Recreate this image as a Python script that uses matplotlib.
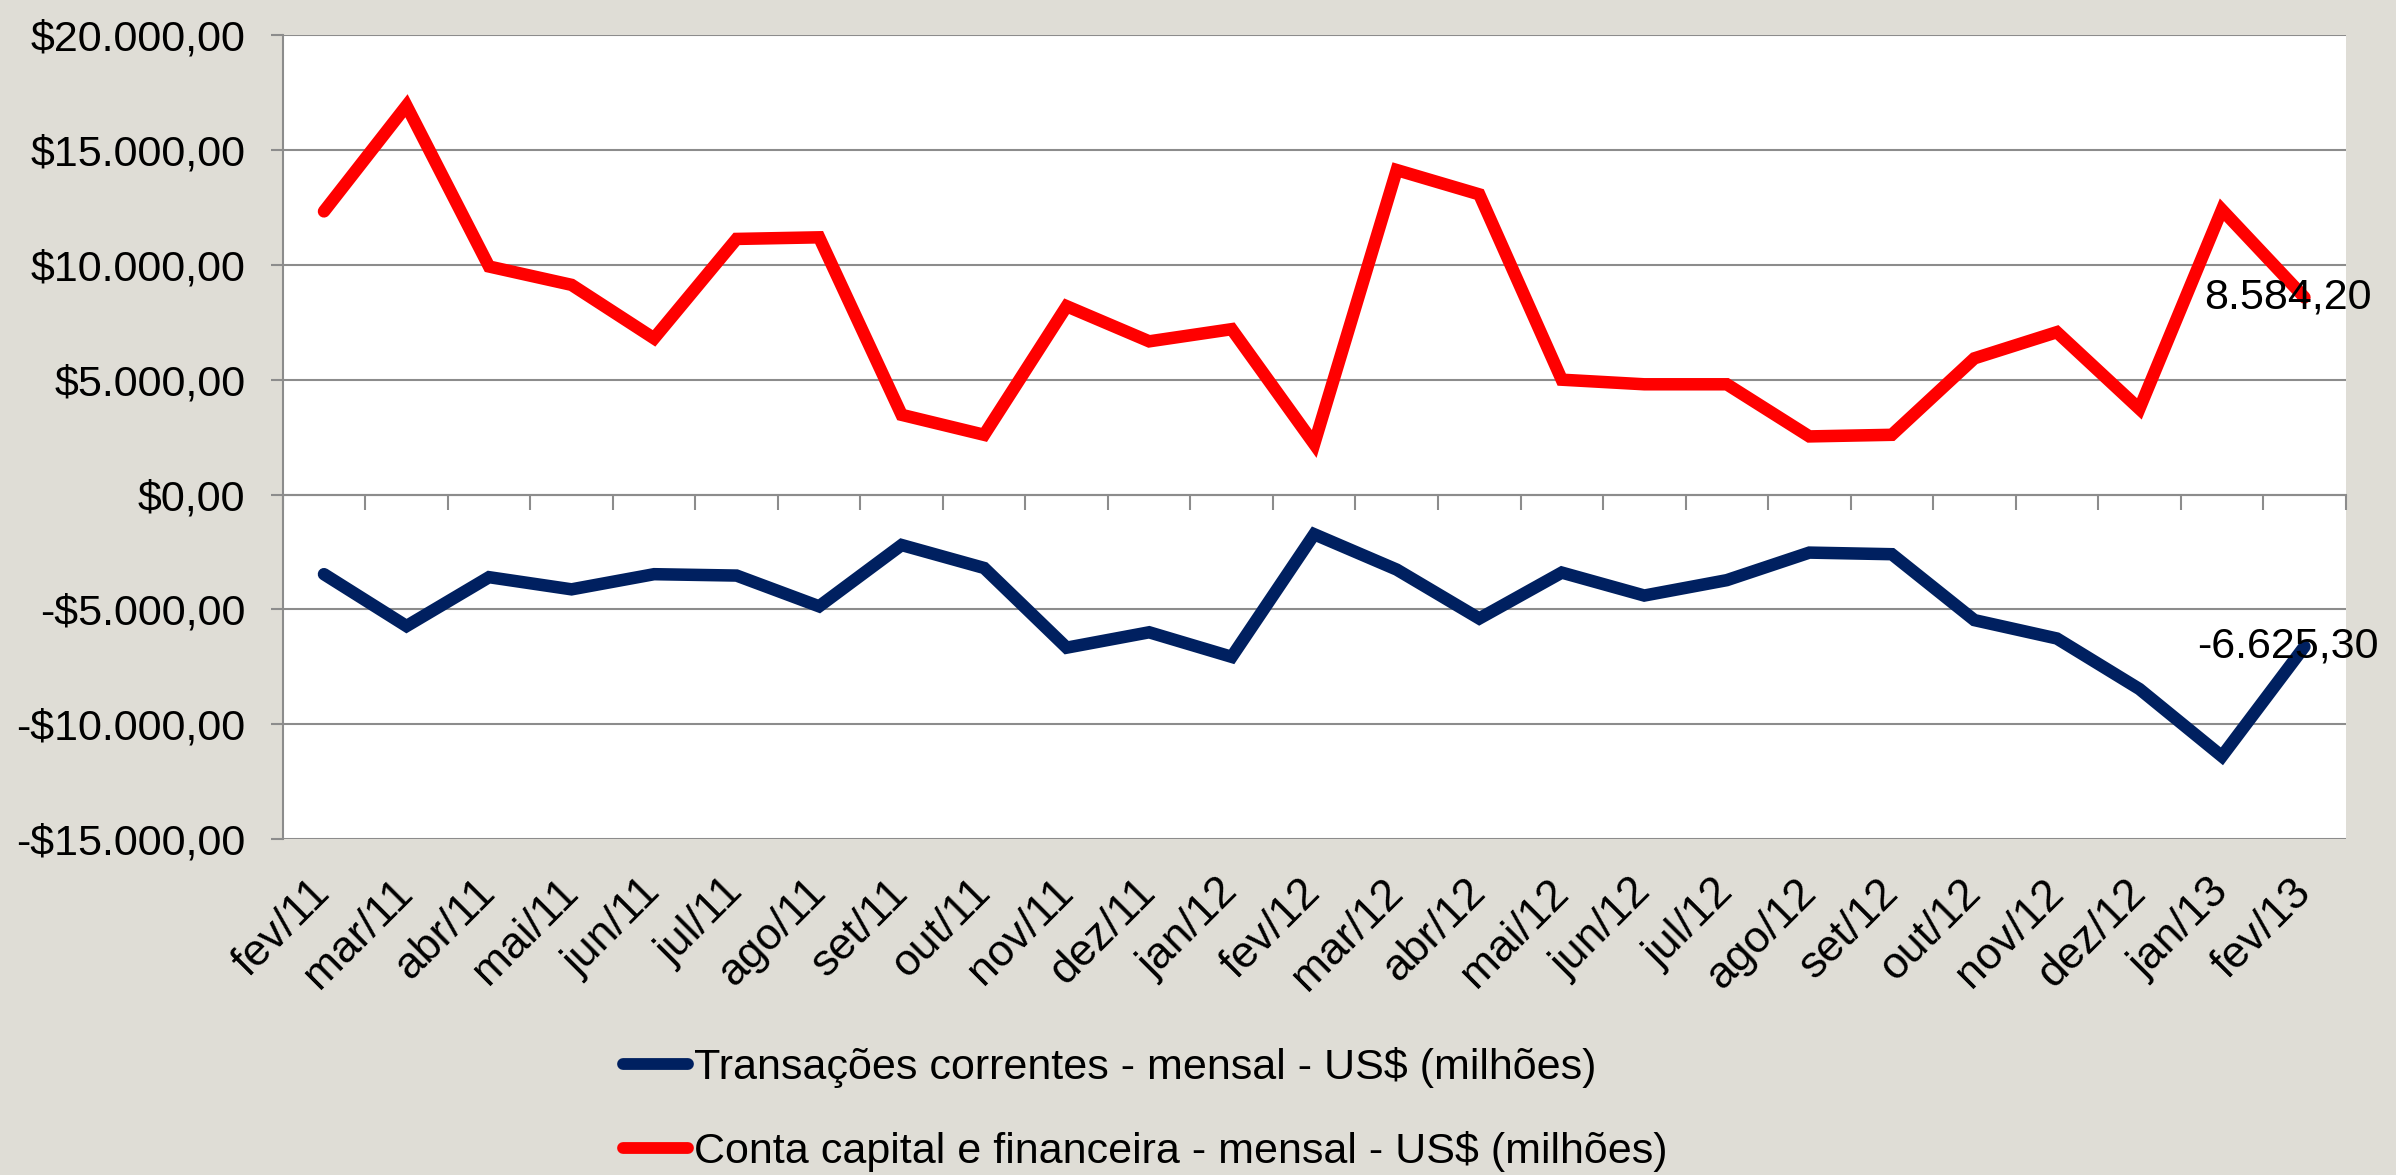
# -*- coding: utf-8 -*-
# Transações correntes x Conta capital e financeira (mensal, US$ milhões)

import matplotlib.pyplot as plt
import numpy as np
from matplotlib.ticker import FuncFormatter

# =============================================================================
# Data
# =============================================================================

months = ['fev/11', 'mar/11', 'abr/11', 'mai/11', 'jun/11', 'jul/11', 'ago/11',
          'set/11', 'out/11', 'nov/11', 'dez/11', 'jan/12', 'fev/12', 'mar/12',
          'abr/12', 'mai/12', 'jun/12', 'jul/12', 'ago/12', 'set/12', 'out/12',
          'nov/12', 'dez/12', 'jan/13', 'fev/13']

transacoes = [-3470, -5730, -3600, -4130, -3470, -3530, -4870, -2200, -3200,
              -6670, -6000, -7070, -1730, -3270, -5400, -3400, -4400, -3730,
              -2530, -2600, -5470, -6270, -8470, -11400, -6625.30]

conta_capital = [12330, 16930, 9930, 9130, 6800, 11130, 11200, 3470, 2600,
                 8200, 6670, 7200, 2200, 14130, 13070, 5000, 4800, 4800,
                 2530, 2600, 5930, 7070, 3730, 12400, 8584.20]

label_tc = 'Transações correntes - mensal - US$ (milhões)'
label_cc = 'Conta capital e financeira - mensal - US$ (milhões)'

y_ticks = [-15000, -10000, -5000, 0, 5000, 10000, 15000, 20000]

# =============================================================================
# Helpers
# =============================================================================

def br_number(value: float) -> str:
    """Format a number the Brazilian way: 1.234,56"""
    txt = f"{abs(value):,.2f}".replace(',', 'X').replace('.', ',').replace('X', '.')
    return ('-' if value < 0 else '') + txt


def br_money(value, _pos=None) -> str:
    return ('-' if value < 0 else '') + '$' + br_number(abs(value))

# =============================================================================
# Plot
# =============================================================================

plt.rcParams['font.family'] = ['Liberation Sans', 'DejaVu Sans']

BG = '#dfddd6'
GRID = '#8c8c8c'
NAVY = '#002060'
RED = '#ff0000'
LW = 9

fig = plt.figure(figsize=(23.96, 11.75), dpi=100, facecolor=BG)
ax = fig.add_axes([0.118, 0.286, 0.861, 0.684])
ax.set_facecolor('white')

x = np.arange(len(months))
ax.plot(x, transacoes, color=NAVY, lw=LW, solid_capstyle='round',
        solid_joinstyle='miter', label=label_tc, zorder=3)
ax.plot(x, conta_capital, color=RED, lw=LW, solid_capstyle='round',
        solid_joinstyle='miter', label=label_cc, zorder=3)

ax.set_xlim(-0.5, len(months) - 0.5)
ax.set_ylim(y_ticks[0], y_ticks[-1])
ax.set_yticks(y_ticks)
ax.yaxis.set_major_formatter(FuncFormatter(br_money))
ax.grid(axis='y', color=GRID, lw=1.5, zorder=1)

ax.set_xticks(x)
ax.set_xticklabels(months, rotation=45, ha='right', va='center',
                   rotation_mode='anchor')
ax.tick_params(axis='x', length=0, pad=34, labelsize=32)
ax.tick_params(axis='y', length=9, width=1.5, color=GRID, pad=18, labelsize=31)

for side in ['top', 'right', 'bottom']:
    ax.spines[side].set_visible(False)
ax.spines['left'].set_color(GRID)
ax.spines['left'].set_linewidth(1.5)

# category axis crossing at zero, tick marks between categories
zero_loc = (0 - y_ticks[0]) / (y_ticks[-1] - y_ticks[0])
cat_axis = ax.secondary_xaxis(zero_loc)
cat_axis.set_xticks(np.arange(-0.5, len(months), 1.0))
cat_axis.set_xticklabels([])
cat_axis.tick_params(direction='out', length=11, width=1.5, color=GRID)
cat_axis.spines['bottom'].set_color(GRID)
cat_axis.spines['bottom'].set_linewidth(1.5)

# data labels on the last points
for series in (conta_capital, transacoes):
    ax.annotate(br_number(series[-1]), (x[-1], series[-1]), xytext=(-12, 0),
                textcoords='offset points', ha='center', va='center',
                fontsize=31, annotation_clip=False, zorder=4)

leg = ax.legend(loc='upper left', bbox_to_anchor=(0.26, 0.109),
                bbox_transform=fig.transFigure, frameon=False, fontsize=31,
                handlelength=1.5, handletextpad=0.15, labelspacing=1.0,
                borderpad=0, borderaxespad=0)
for line in leg.get_lines():
    line.set_linewidth(8.5)
    line.set_solid_capstyle('round')

fig.savefig('out.png', dpi=100, facecolor=BG)
